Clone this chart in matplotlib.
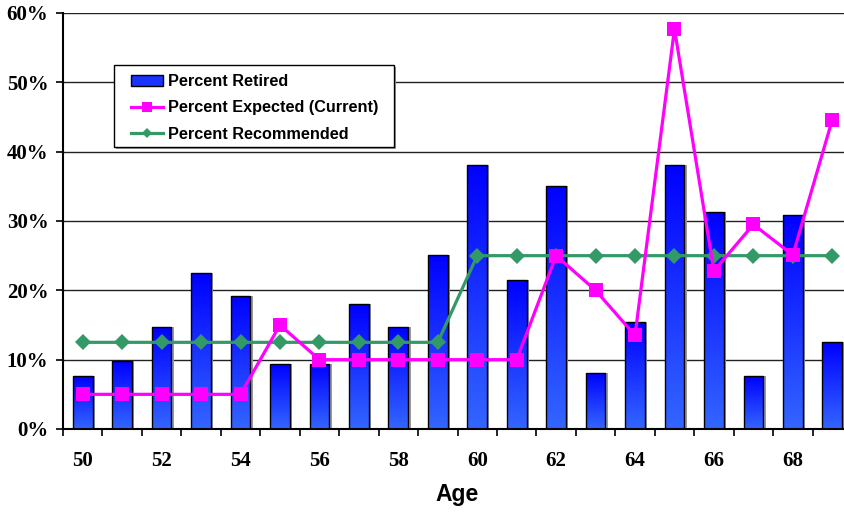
import numpy as np
import matplotlib
matplotlib.use("Agg")
import matplotlib.pyplot as plt
from matplotlib.colors import LinearSegmentedColormap
from matplotlib.lines import Line2D
from matplotlib.patches import Patch, Rectangle

ages = list(range(50, 70))
pct_retired = [7.6, 9.8, 14.7, 22.5, 19.2, 9.4, 9.4, 18.0, 14.7, 25.1,
               38.1, 21.5, 35.0, 8.1, 15.4, 38.1, 31.3, 7.6, 30.9, 12.5]
pct_expected = [5, 5, 5, 5, 5, 15, 10, 10, 10, 10,
                10, 10, 25, 20, 13.5, 57.7, 22.8, 29.5, 25.1, 44.6]
pct_recommended = [12.5] * 10 + [25] * 10
ytick_vals = [0, 10, 20, 30, 40, 50, 60]
xtick_labels = [50, 52, 54, 56, 58, 60, 62, 64, 66, 68]

W, H = 844, 512
AX_L, AX_B, AX_W, AX_H = 63, 83, 789, 416   # axes box in pixels

fig = plt.figure(figsize=(W / 100, H / 100), dpi=100)
ax = fig.add_axes([AX_L / W, AX_B / H, AX_W / W, AX_H / H])


def ax_frac(px, py):
    """Pixel position (from top-left of figure) to axes fraction."""
    return (px - AX_L) / AX_W, (H - py - AX_B) / AX_H


# gridlines
for v in ytick_vals[1:]:
    ax.axhline(v, color="#222222", lw=1.0, zorder=0.5)

# gradient-filled bars
grad = LinearSegmentedColormap.from_list("blu", ["#3366ff", "#0000ff"])
bars = ax.bar(ages, pct_retired, width=0.5, facecolor="none",
              edgecolor="black", linewidth=1.0, zorder=2)
gradient = np.linspace(0, 1, 256).reshape(-1, 1)
for b in bars:
    x0, y0 = b.get_x(), b.get_y()
    w, h = b.get_width(), b.get_height()
    ax.add_patch(Rectangle((x0 + 0.06, y0), w, h, facecolor="#9a9a9a",
                           edgecolor="none", zorder=1.4))
    im = ax.imshow(gradient, cmap=grad, origin="lower", aspect="auto",
                   extent=(x0, x0 + w, y0, y0 + h), zorder=1.5)
    im.set_clip_path(b)
ax.set_xlim(49.5, 69.5)
ax.set_ylim(0, 60)

ax.plot(ages, pct_expected, color="#ff00ff", lw=2.3, marker="s",
        markersize=10, markeredgewidth=0, zorder=4)
ax.plot(ages, pct_recommended, color="#339966", lw=2.3, marker="D",
        markersize=8, markeredgewidth=0, zorder=3)

for s in ["top", "right"]:
    ax.spines[s].set_visible(False)
for s in ["left", "bottom"]:
    ax.spines[s].set_linewidth(1.5)
    ax.spines[s].set_zorder(5)

ax.set_yticks(ytick_vals)
ax.set_yticklabels([f"{v}%" for v in ytick_vals])
ax.tick_params(axis="y", direction="out", length=5, width=1.2, pad=5.5)

ax.set_xticks(np.arange(49.5, 70, 1))
ax.set_xticklabels([])
ax.tick_params(axis="x", which="major", direction="out", length=5, width=1.2)
ax.set_xticks(xtick_labels, minor=True)
ax.set_xticklabels([str(v) for v in xtick_labels], minor=True)
ax.tick_params(axis="x", which="minor", length=0, pad=16)

for lab in ax.get_yticklabels() + ax.get_xticklabels(minor=True):
    lab.set_fontfamily("Liberation Serif")
    lab.set_fontweight("bold")
    lab.set_fontsize(15)

fig.text(457 / W, 1 - 495 / H, "Age", ha="center", va="center",
         fontfamily="Liberation Sans", fontweight="bold", fontsize=16.5)

# legend box
fx0, fy1 = ax_frac(114, 65)
fx1, fy0 = ax_frac(394, 147)
sx, sy = 2 / AX_W, 2 / AX_H
ax.add_patch(Rectangle((fx0 + sx, fy0 - sy), fx1 - fx0, fy1 - fy0,
                       transform=ax.transAxes, facecolor="#999999",
                       edgecolor="none", zorder=5.5, clip_on=False))
ax.add_patch(Rectangle((fx0, fy0), fx1 - fx0, fy1 - fy0,
                       transform=ax.transAxes, facecolor="white",
                       edgecolor="black", linewidth=1.0, zorder=6,
                       clip_on=False))

handles = [
    Patch(facecolor="#1a33ff", edgecolor="black", linewidth=1.0),
    Line2D([], [], color="#ff00ff", lw=2.3, marker="s", markersize=7,
           markeredgewidth=0),
    Line2D([], [], color="#339966", lw=2.3, marker="D", markersize=5.5,
           markeredgewidth=0),
]
labels = ["Percent Retired", "Percent Expected (Current)", "Percent Recommended"]
lx, ly = ax_frac(131, 74)
leg = ax.legend(handles, labels, loc="upper left", bbox_to_anchor=(lx, ly),
                prop={"family": "Liberation Sans", "weight": "bold", "size": 11.7},
                frameon=False, handlelength=1.95, handletextpad=0.3,
                labelspacing=0.7, borderpad=0, borderaxespad=0)
leg.set_zorder(7)

fig.savefig("out.png", dpi=100)
